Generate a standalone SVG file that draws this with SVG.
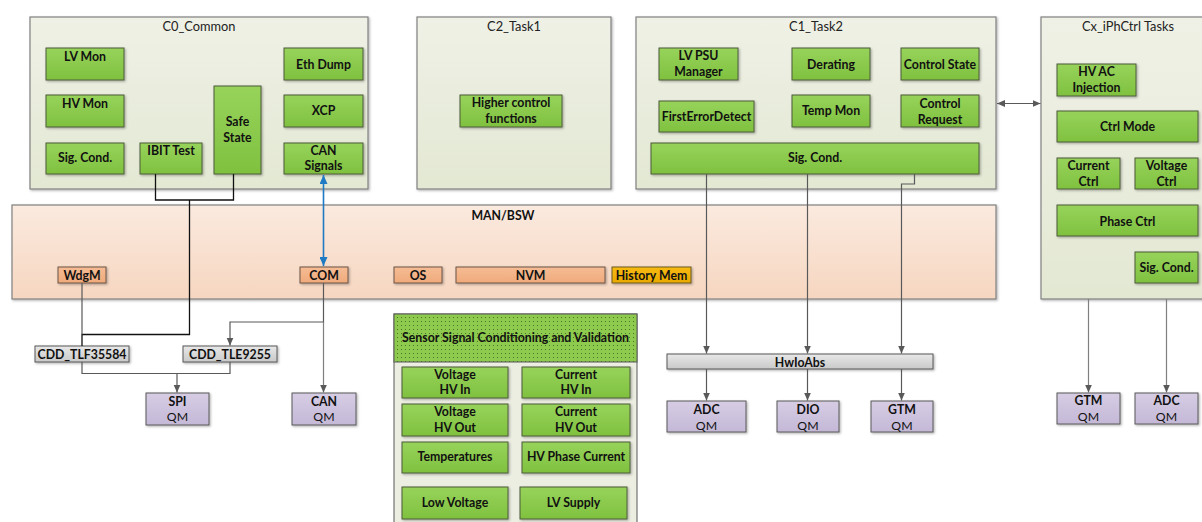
<svg xmlns="http://www.w3.org/2000/svg" width="1202" height="522" viewBox="0 0 1202 522">
  <defs>
    <linearGradient id="gGreen" x1="0" y1="0" x2="0" y2="1">
      <stop offset="0" stop-color="#97D35B"/>
      <stop offset="1" stop-color="#7FC13F"/>
    </linearGradient>
    <linearGradient id="gCont" x1="0" y1="0" x2="0" y2="1">
      <stop offset="0" stop-color="#EFF1E6"/>
      <stop offset="1" stop-color="#E3E8D3"/>
    </linearGradient>
    <linearGradient id="gBsw" x1="0" y1="0" x2="0" y2="1">
      <stop offset="0" stop-color="#FBEADF"/>
      <stop offset="1" stop-color="#F6D6C0"/>
    </linearGradient>
    <linearGradient id="gOrange" x1="0" y1="0" x2="0" y2="1">
      <stop offset="0" stop-color="#F6BC94"/>
      <stop offset="1" stop-color="#EFAA7B"/>
    </linearGradient>
    <linearGradient id="gAmber" x1="0" y1="0" x2="0" y2="1">
      <stop offset="0" stop-color="#F7BA10"/>
      <stop offset="1" stop-color="#EAA800"/>
    </linearGradient>
    <linearGradient id="gGray" x1="0" y1="0" x2="0" y2="1">
      <stop offset="0" stop-color="#E8E8E8"/>
      <stop offset="1" stop-color="#C9C9C9"/>
    </linearGradient>
    <linearGradient id="gPurple" x1="0" y1="0" x2="0" y2="1">
      <stop offset="0" stop-color="#D6CDE4"/>
      <stop offset="1" stop-color="#C4B8D7"/>
    </linearGradient>
    <pattern id="dots" width="4" height="4" patternUnits="userSpaceOnUse">
      <rect width="4" height="4" fill="#8DCA4D"/>
      <rect x="1" y="1" width="1" height="1" fill="#4A7526"/>
    </pattern>
    <filter id="sh" x="-10%" y="-10%" width="130%" height="140%">
      <feDropShadow dx="1.2" dy="1.2" stdDeviation="0.8" flood-color="#000" flood-opacity="0.3"/>
    </filter>
    <marker id="ah" markerWidth="8" markerHeight="8" refX="8" refY="3.5" orient="auto-start-reverse" markerUnits="userSpaceOnUse">
      <path d="M0,0 L8,3.5 L0,7 z" fill="#595959"/>
    </marker>
    <marker id="bh" markerWidth="9" markerHeight="8" refX="9" refY="4" orient="auto-start-reverse" markerUnits="userSpaceOnUse">
      <path d="M0,0 L9,4 L0,8 z" fill="#1F7AC4"/>
    </marker>
  </defs>
  <style>
    .cont { fill: url(#gCont); stroke: #808080; stroke-width: 1.2; filter: url(#sh); }
    .grn { fill: url(#gGreen); stroke: #4D5A3A; stroke-width: 1; filter: url(#sh); }
    .org { fill: url(#gOrange); stroke: #6B5547; stroke-width: 1; filter: url(#sh); }
    .amb { fill: url(#gAmber); stroke: #6B5A20; stroke-width: 1; filter: url(#sh); }
    .gry { fill: url(#gGray); stroke: #595959; stroke-width: 1; filter: url(#sh); }
    .pur { fill: url(#gPurple); stroke: #595959; stroke-width: 1; filter: url(#sh); }
    text { font-family: Lato, "Liberation Sans", sans-serif; font-size: 12.3px; fill: #111; text-anchor: middle; }
    .b { font-weight: bold; }
    .ttl { font-size: 12.8px; fill: #222; }
    .wire { fill: none; stroke: #595959; stroke-width: 1.2; }
    .wireL { fill: none; stroke: #7F7F7F; stroke-width: 1.2; }
    .blk { fill: none; stroke: #111; stroke-width: 1.3; }
  </style>

  <!-- Containers -->
  <g id="c0_common">
    <rect class="cont" x="30" y="17" width="338" height="172"/>
    <text class="ttl" x="199" y="31">C0_Common</text>
  </g>
  <g id="c2_task1">
    <rect class="cont" x="417" y="17" width="194" height="172"/>
    <text class="ttl" x="514" y="31">C2_Task1</text>
  </g>
  <g id="c1_task2">
    <rect class="cont" x="636" y="17" width="360" height="172"/>
    <text class="ttl" x="816" y="31">C1_Task2</text>
  </g>
  <g id="cx_iphctrl">
    <rect class="cont" x="1041" y="17" width="170" height="282"/>
    <text class="ttl" x="1128" y="31">Cx_iPhCtrl Tasks</text>
  </g>
  <g id="man_bsw">
    <rect x="12" y="205" width="984" height="94" fill="url(#gBsw)" stroke="#808080" stroke-width="1.2" filter="url(#sh)"/>
    <text class="b" x="503" y="219.5">MAN/BSW</text>
  </g>

  <!-- C0_Common blocks -->
  <g id="lv_mon"><rect class="grn" x="46" y="48" width="78" height="32"/><text class="b" x="85" y="60.5">LV Mon</text></g>
  <g id="hv_mon"><rect class="grn" x="46" y="95" width="78" height="32"/><text class="b" x="85" y="107.5">HV Mon</text></g>
  <g id="sig_cond_c0"><rect class="grn" x="46" y="143" width="78" height="31"/><text class="b" x="85" y="162">Sig. Cond.</text></g>
  <g id="ibit_test"><rect class="grn" x="140" y="143" width="62" height="31"/><text class="b" x="171" y="154.5">IBIT Test</text></g>
  <g id="safe_state"><rect class="grn" x="214" y="86" width="47" height="88"/><text class="b" x="237.5" y="126">Safe</text><text class="b" x="237.5" y="142">State</text></g>
  <g id="eth_dump"><rect class="grn" x="284" y="48" width="79" height="32"/><text class="b" x="323.5" y="68.5">Eth Dump</text></g>
  <g id="xcp"><rect class="grn" x="284" y="95" width="79" height="32"/><text class="b" x="323.5" y="115">XCP</text></g>
  <g id="can_signals"><rect class="grn" x="284" y="143" width="79" height="31"/><text class="b" x="323.5" y="154.5">CAN</text><text class="b" x="323.5" y="170">Signals</text></g>

  <!-- C2_Task1 blocks -->
  <g id="higher_ctrl"><rect class="grn" x="460" y="95" width="102" height="32"/><text class="b" x="511" y="107">Higher control</text><text class="b" x="511" y="123">functions</text></g>

  <!-- C1_Task2 blocks -->
  <g id="lv_psu"><rect class="grn" x="659" y="48" width="79" height="32"/><text class="b" x="698.5" y="60">LV PSU</text><text class="b" x="698.5" y="76">Manager</text></g>
  <g id="derating"><rect class="grn" x="792" y="48" width="78" height="32"/><text class="b" x="831" y="68.5">Derating</text></g>
  <g id="control_state"><rect class="grn" x="901" y="48" width="78" height="32"/><text class="b" x="940" y="68.5">Control State</text></g>
  <g id="first_error"><rect class="grn" x="659" y="101" width="95" height="31"/><text class="b" x="706.5" y="121">FirstErrorDetect</text></g>
  <g id="temp_mon"><rect class="grn" x="792" y="95" width="78" height="32"/><text class="b" x="831" y="115">Temp Mon</text></g>
  <g id="control_request"><rect class="grn" x="901" y="95" width="78" height="32"/><text class="b" x="940" y="107.5">Control</text><text class="b" x="940" y="123.5">Request</text></g>
  <g id="sig_cond_c1"><rect class="grn" x="651" y="143" width="328" height="31"/><text class="b" x="815" y="162">Sig. Cond.</text></g>

  <!-- Cx_iPhCtrl blocks -->
  <g id="hv_ac_inj"><rect class="grn" x="1057" y="64" width="79" height="32"/><text class="b" x="1096.5" y="76">HV AC</text><text class="b" x="1096.5" y="92">Injection</text></g>
  <g id="ctrl_mode"><rect class="grn" x="1057" y="111" width="141" height="31"/><text class="b" x="1127.5" y="131">Ctrl Mode</text></g>
  <g id="current_ctrl"><rect class="grn" x="1057" y="158" width="63" height="31"/><text class="b" x="1088.5" y="170">Current</text><text class="b" x="1088.5" y="186">Ctrl</text></g>
  <g id="voltage_ctrl"><rect class="grn" x="1135" y="158" width="63" height="31"/><text class="b" x="1166.5" y="170">Voltage</text><text class="b" x="1166.5" y="186">Ctrl</text></g>
  <g id="phase_ctrl"><rect class="grn" x="1057" y="205" width="141" height="31"/><text class="b" x="1127.5" y="225.5">Phase Ctrl</text></g>
  <g id="sig_cond_cx"><rect class="grn" x="1135" y="252" width="63" height="31"/><text class="b" x="1166.5" y="272">Sig. Cond.</text></g>

  <!-- MAN/BSW modules -->
  <g id="wdgm"><rect class="org" x="58" y="267" width="48" height="16"/><text class="b" x="82" y="280">WdgM</text></g>
  <g id="com"><rect class="org" x="300" y="267" width="48" height="16"/><text class="b" x="324" y="280">COM</text></g>
  <g id="os"><rect class="org" x="394" y="267" width="48" height="16"/><text class="b" x="418" y="280">OS</text></g>
  <g id="nvm"><rect class="org" x="456" y="267" width="149" height="16"/><text class="b" x="530.5" y="280">NVM</text></g>
  <g id="history_mem"><rect class="amb" x="612" y="267" width="79" height="16"/><text class="b" x="651.5" y="280">History Mem</text></g>

  <!-- Complex drivers and abstraction -->
  <g id="cdd_tlf35584"><rect class="gry" x="35" y="346" width="94" height="16"/><text class="b" x="82" y="358.5">CDD_TLF35584</text></g>
  <g id="cdd_tle9255"><rect class="gry" x="183" y="346" width="94" height="16"/><text class="b" x="230" y="358.5">CDD_TLE9255</text></g>
  <g id="hwioabs"><rect class="gry" x="667" y="354" width="266" height="15"/><text class="b" x="800" y="366.5">HwIoAbs</text></g>

  <!-- MCAL drivers -->
  <g id="spi_qm"><rect class="pur" x="146" y="393" width="63" height="32"/><text class="b" x="177.5" y="405.5">SPI</text><text x="177.5" y="421">QM</text></g>
  <g id="can_qm"><rect class="pur" x="292" y="393" width="64" height="32"/><text class="b" x="324" y="405.5">CAN</text><text x="324" y="421">QM</text></g>
  <g id="adc_qm"><rect class="pur" x="667" y="401" width="79" height="31"/><text class="b" x="706.5" y="413.5">ADC</text><text x="706.5" y="429.5">QM</text></g>
  <g id="dio_qm"><rect class="pur" x="777" y="401" width="62" height="31"/><text class="b" x="808" y="413.5">DIO</text><text x="808" y="429.5">QM</text></g>
  <g id="gtm_qm"><rect class="pur" x="871" y="401" width="62" height="31"/><text class="b" x="902" y="413.5">GTM</text><text x="902" y="429.5">QM</text></g>
  <g id="gtm_qm_cx"><rect class="pur" x="1057" y="393" width="63" height="31"/><text class="b" x="1088.5" y="405">GTM</text><text x="1088.5" y="421">QM</text></g>
  <g id="adc_qm_cx"><rect class="pur" x="1135" y="393" width="63" height="31"/><text class="b" x="1166.5" y="405">ADC</text><text x="1166.5" y="421">QM</text></g>

  <!-- Sensor signal conditioning -->
  <g id="sensor_signal">
    <rect x="394" y="314" width="243" height="220" fill="#ECEEE2" stroke="#595959" stroke-width="1"/>
    <rect x="394" y="314" width="243" height="48" fill="url(#dots)" stroke="#595959" stroke-width="1"/>
    <text class="b" x="515.5" y="341.5">Sensor Signal Conditioning and Validation</text>
  </g>
  <g id="voltage_hv_in"><rect class="grn" x="402" y="367" width="106" height="31"/><text class="b" x="455" y="378.5">Voltage</text><text class="b" x="455" y="394">HV In</text></g>
  <g id="current_hv_in"><rect class="grn" x="522" y="367" width="108" height="31"/><text class="b" x="576" y="378.5">Current</text><text class="b" x="576" y="394">HV In</text></g>
  <g id="voltage_hv_out"><rect class="grn" x="402" y="404" width="106" height="32"/><text class="b" x="455" y="416">Voltage</text><text class="b" x="455" y="432">HV Out</text></g>
  <g id="current_hv_out"><rect class="grn" x="522" y="404" width="108" height="32"/><text class="b" x="576" y="416">Current</text><text class="b" x="576" y="432">HV Out</text></g>
  <g id="temperatures"><rect class="grn" x="402" y="442" width="106" height="31"/><text class="b" x="455" y="461">Temperatures</text></g>
  <g id="hv_phase_current"><rect class="grn" x="522" y="442" width="108" height="31"/><text class="b" x="576" y="461">HV Phase Current</text></g>
  <g id="low_voltage"><rect class="grn" x="402" y="487" width="106" height="32"/><text class="b" x="455" y="507">Low Voltage</text></g>
  <g id="lv_supply"><rect class="grn" x="520" y="487" width="107" height="32"/><text class="b" x="573.5" y="507">LV Supply</text></g>

  <!-- Connectors -->
  <g id="connectors">
    <!-- IBIT / Safe State to watchdog driver -->
    <path class="blk" d="M155.5,174 V200 H233.5 V174"/>
    <path class="blk" d="M189.5,200 V334.5 H82 V346"/>
    <path class="wire" d="M82,283 V334.5"/>
    <!-- CAN Signals <-> COM -->
    <path d="M323.5,175 V266" fill="none" stroke="#1F7AC4" stroke-width="1.6" marker-start="url(#bh)" marker-end="url(#bh)"/>
    <!-- COM to drivers -->
    <path class="wire" d="M323.5,283 V322 H230 V345.5" marker-end="url(#ah)"/>
    <path class="wireL" d="M323.5,322 V392.5" marker-end="url(#ah)"/>
    <!-- CDDs to SPI -->
    <path class="wire" d="M82,362 V373.5 H230 V362"/>
    <path class="wire" d="M177,373.5 V392.5" marker-end="url(#ah)"/>
    <!-- C1 Sig. Cond. to HwIoAbs -->
    <path class="wire" d="M706.5,174 V353.5" marker-end="url(#ah)"/>
    <path class="wire" d="M807.5,174 V353.5" marker-end="url(#ah)"/>
    <path class="wire" d="M914.5,174 V184 H901.5 V353.5" marker-end="url(#ah)"/>
    <!-- HwIoAbs to MCAL -->
    <path class="wire" d="M706.5,369 V400.5" marker-end="url(#ah)"/>
    <path class="wire" d="M807.5,369 V400.5" marker-end="url(#ah)"/>
    <path class="wire" d="M901.5,369 V400.5" marker-end="url(#ah)"/>
    <!-- Cx to MCAL -->
    <path class="wireL" d="M1088.5,299 V392.5" marker-end="url(#ah)"/>
    <path class="wireL" d="M1166.5,299 V392.5" marker-end="url(#ah)"/>
    <!-- C1_Task2 <-> Cx -->
    <path class="wire" d="M997,103.5 H1040.5" marker-start="url(#ah)" marker-end="url(#ah)"/>
  </g>
</svg>
